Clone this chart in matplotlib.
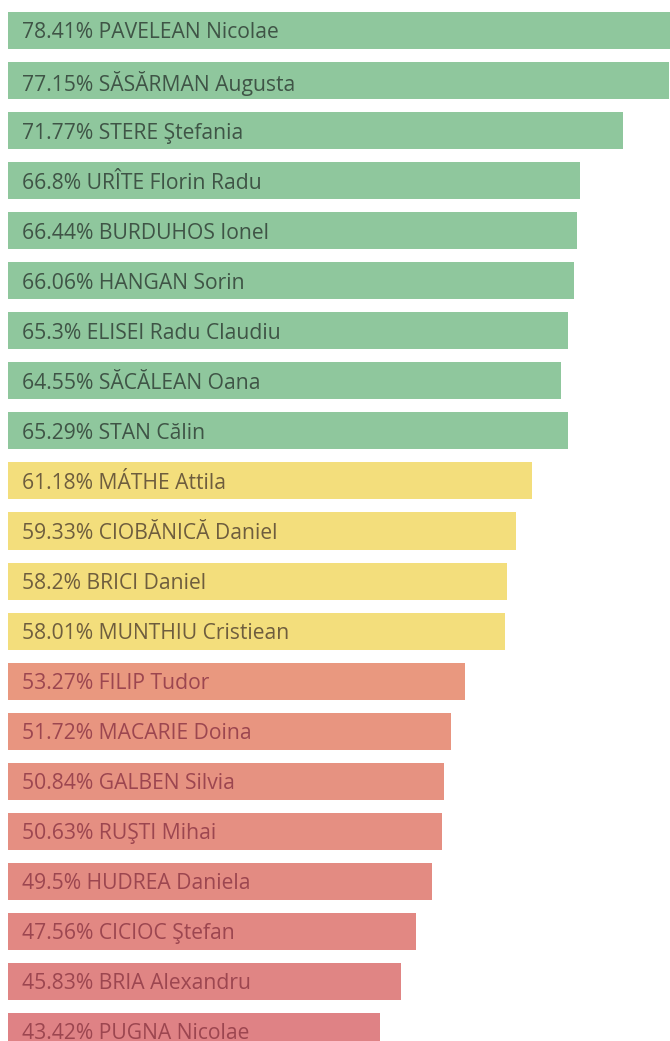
import matplotlib.pyplot as plt
import numpy as np
from matplotlib.colors import to_rgb

# candidates, top to bottom
names = ['PAVELEAN Nicolae', 'SĂSĂRMAN Augusta', 'STERE Ştefania',
         'URÎTE Florin Radu', 'BURDUHOS Ionel', 'HANGAN Sorin',
         'ELISEI Radu Claudiu', 'SĂCĂLEAN Oana', 'STAN Călin',
         'MÁTHE Attila', 'CIOBĂNICĂ Daniel', 'BRICI Daniel',
         'MUNTHIU Cristiean', 'FILIP Tudor', 'MACARIE Doina',
         'GALBEN Silvia', 'RUŞTI Mihai', 'HUDREA Daniela',
         'CICIOC Ştefan', 'BRIA Alexandru', 'PUGNA Nicolae']
labels = ['78.41%', '77.15%', '71.77%', '66.8%', '66.44%', '66.06%',
          '65.3%', '64.55%', '65.29%', '61.18%', '59.33%', '58.2%',
          '58.01%', '53.27%', '51.72%', '50.84%', '50.63%', '49.5%',
          '47.56%', '45.83%', '43.42%']
values = [78.41, 77.15, 71.77, 66.8, 66.44, 66.06, 65.3, 64.55, 65.29,
          61.18, 59.33, 58.2, 58.01, 53.27, 51.72, 50.84, 50.63, 49.5,
          47.56, 45.83, 43.42]
groups = ['green'] * 9 + ['yellow'] * 4 + ['red'] * 8

bar_colors = {'green': '#8fc79d', 'yellow': '#f3de7c'}
text_colors = {'green': '#3f5446', 'yellow': '#6e5d3e', 'red': '#9c4650'}
red_top, red_bottom = np.array(to_rgb('#e9987f')), np.array(to_rgb('#df8285'))

fig = plt.figure(figsize=(6.70, 10.41), dpi=100)
ax = fig.add_axes([8 / 670, 0, 1 - 8 / 670, 1])

n_red = groups.count('red')
k = 0
for i, (name, lab, v, g) in enumerate(zip(names, labels, values, groups)):
    if g == 'red':
        t = k / (n_red - 1)
        col = red_top * (1 - t) + red_bottom * t
        k += 1
    else:
        col = bar_colors[g]
    ax.barh(i, v, height=0.74, color=col, edgecolor='none')
    ax.text(1.6, i + 0.05, f'{lab} {name}', va='center', ha='left',
            fontsize=15.2, family=['Open Sans', 'DejaVu Sans'],
            color=text_colors[g])

ax.set_xlim(0, 77.25)
ax.set_ylim(20.19, -0.609)
ax.axis('off')

plt.savefig('out.png', dpi=100)
